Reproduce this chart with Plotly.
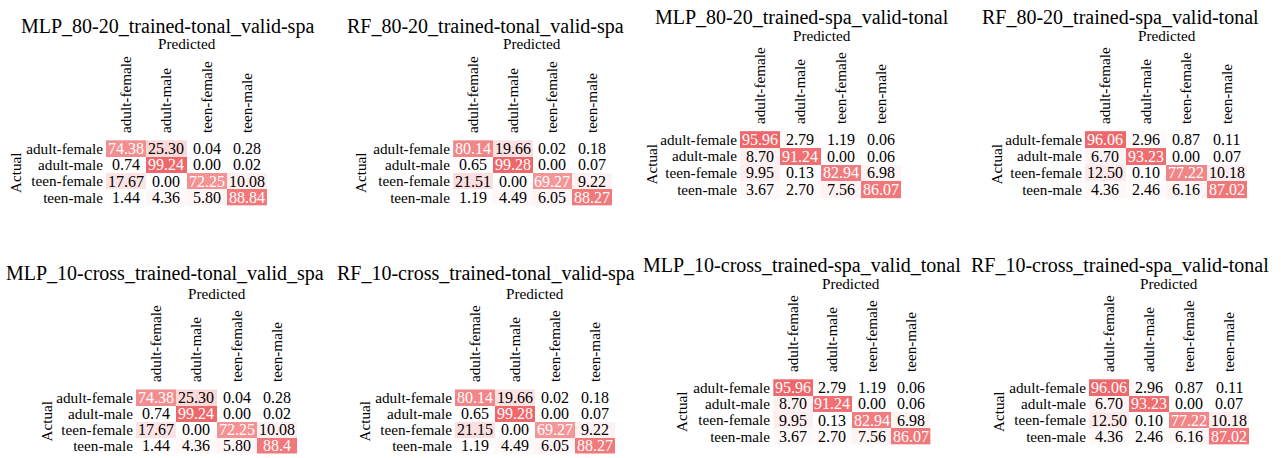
import plotly.graph_objects as go

# Class labels shared by every confusion matrix
classes = ["adult-female", "adult-male", "teen-female", "teen-male"]

# Row-normalised confusion matrices (percent), rows = actual, cols = predicted
mlp_8020_tonal_spa = [["74.38", "25.30", "0.04", "0.28"],
                      ["0.74", "99.24", "0.00", "0.02"],
                      ["17.67", "0.00", "72.25", "10.08"],
                      ["1.44", "4.36", "5.80", "88.84"]]
rf_8020_tonal_spa = [["80.14", "19.66", "0.02", "0.18"],
                     ["0.65", "99.28", "0.00", "0.07"],
                     ["21.51", "0.00", "69.27", "9.22"],
                     ["1.19", "4.49", "6.05", "88.27"]]
mlp_8020_spa_tonal = [["95.96", "2.79", "1.19", "0.06"],
                      ["8.70", "91.24", "0.00", "0.06"],
                      ["9.95", "0.13", "82.94", "6.98"],
                      ["3.67", "2.70", "7.56", "86.07"]]
rf_8020_spa_tonal = [["96.06", "2.96", "0.87", "0.11"],
                     ["6.70", "93.23", "0.00", "0.07"],
                     ["12.50", "0.10", "77.22", "10.18"],
                     ["4.36", "2.46", "6.16", "87.02"]]
mlp_cv_tonal_spa = [["74.38", "25.30", "0.04", "0.28"],
                    ["0.74", "99.24", "0.00", "0.02"],
                    ["17.67", "0.00", "72.25", "10.08"],
                    ["1.44", "4.36", "5.80", "88.4"]]
rf_cv_tonal_spa = [["80.14", "19.66", "0.02", "0.18"],
                   ["0.65", "99.28", "0.00", "0.07"],
                   ["21.15", "0.00", "69.27", "9.22"],
                   ["1.19", "4.49", "6.05", "88.27"]]
mlp_cv_spa_tonal = [["95.96", "2.79", "1.19", "0.06"],
                    ["8.70", "91.24", "0.00", "0.06"],
                    ["9.95", "0.13", "82.94", "6.98"],
                    ["3.67", "2.70", "7.56", "86.07"]]
rf_cv_spa_tonal = [["96.06", "2.96", "0.87", "0.11"],
                   ["6.70", "93.23", "0.00", "0.07"],
                   ["12.50", "0.10", "77.22", "10.18"],
                   ["4.36", "2.46", "6.16", "87.02"]]

titles = ["MLP_80-20_trained-tonal_valid-spa", "RF_80-20_trained-tonal_valid-spa",
          "MLP_80-20_trained-spa_valid-tonal", "RF_80-20_trained-spa_valid-tonal",
          "MLP_10-cross_trained-tonal_valid_spa", "RF_10-cross_trained-tonal_valid-spa",
          "MLP_10-cross_trained-spa_valid_tonal", "RF_10-cross_trained-spa_valid-tonal"]
matrices = [mlp_8020_tonal_spa, rf_8020_tonal_spa, mlp_8020_spa_tonal, rf_8020_spa_tonal,
            mlp_cv_tonal_spa, rf_cv_tonal_spa, mlp_cv_spa_tonal, rf_cv_spa_tonal]

W, H = 1281, 458
FONT = "'Liberation Serif', 'DejaVu Serif', 'Times New Roman', serif"
LABEL_SIZE = 15.2

# Pixel layout of each panel: heatmap box, title centre, "Predicted" centre, "Actual" x
panels = [
    dict(box=(106, 267, 138, 208), title=(167, 26), pred=(187, 43), actual=16),
    dict(box=(453, 612, 138, 208), title=(486, 26), pred=(532, 43), actual=361),
    dict(box=(740, 901, 129, 200), title=(802, 17), pred=(822, 36), actual=651),
    dict(box=(1085, 1247, 129, 200), title=(1120, 17), pred=(1167, 36), actual=996),
    dict(box=(136, 297, 387, 456), title=(165, 273), pred=(217, 293), actual=46),
    dict(box=(455, 615, 387, 456), title=(486, 273), pred=(535, 293), actual=364),
    dict(box=(773, 931, 377, 447), title=(802, 265), pred=(851, 283), actual=681),
    dict(box=(1089, 1249, 377, 447), title=(1120, 265), pred=(1169, 283), actual=998),
]

colorscale = [[0.0, "rgb(255,255,255)"], [1.0, "rgb(238,104,107)"]]


def fx(p):
    return p / W


def fy(p):
    return 1 - p / H


fig = go.Figure()
annotations = []
layout = {}

for i, (mat, title, pan) in enumerate(zip(matrices, titles, panels), start=1):
    z = [[float(v) for v in row] for row in mat]
    zmax = max(max(r) for r in z)
    xa = "x" if i == 1 else f"x{i}"
    ya = "y" if i == 1 else f"y{i}"
    fig.add_trace(go.Heatmap(
        z=z, x=classes, y=classes, xaxis=xa, yaxis=ya,
        zmin=0, zmax=zmax, colorscale=colorscale, showscale=False,
        hoverinfo="skip", xgap=0, ygap=0,
    ))
    x0, x1, y0, y1 = pan["box"]
    layout["xaxis" if i == 1 else f"xaxis{i}"] = dict(
        domain=[fx(x0), fx(x1)], anchor=ya, side="top", tickangle=-90,
        tickmode="array", tickvals=classes, ticktext=classes,
        showgrid=False, zeroline=False, showline=False, ticks="",
        tickfont=dict(family=FONT, size=LABEL_SIZE, color="black"),
        ticklabelstandoff=4,
    )
    layout["yaxis" if i == 1 else f"yaxis{i}"] = dict(
        domain=[fy(y1), fy(y0)], anchor=xa, autorange="reversed",
        tickmode="array", tickvals=classes, ticktext=classes,
        showgrid=False, zeroline=False, showline=False, ticks="",
        tickfont=dict(family=FONT, size=LABEL_SIZE, color="black"),
        ticklabelstandoff=2,
    )
    # cell values
    for r, row in enumerate(mat):
        for c, label in enumerate(row):
            val = float(label)
            annotations.append(dict(
                x=classes[c], y=classes[r], xref=xa, yref=ya, text=label,
                showarrow=False,
                font=dict(family=FONT, size=16,
                          color="white" if val / zmax > 0.5 else "black"),
            ))
    tx, ty = pan["title"]
    annotations.append(dict(x=fx(tx), y=fy(ty), xref="paper", yref="paper",
                            text=title, showarrow=False, xanchor="center",
                            yanchor="middle",
                            font=dict(family=FONT, size=20, color="black")))
    px_, py_ = pan["pred"]
    annotations.append(dict(x=fx(px_), y=fy(py_), xref="paper", yref="paper",
                            text="Predicted", showarrow=False, xanchor="center",
                            yanchor="middle",
                            font=dict(family=FONT, size=LABEL_SIZE, color="black")))
    annotations.append(dict(x=fx(pan["actual"]), y=fy((y0 + y1) / 2),
                            xref="paper", yref="paper", text="Actual",
                            showarrow=False, textangle=-90, xanchor="center",
                            yanchor="middle",
                            font=dict(family=FONT, size=LABEL_SIZE, color="black")))

fig.update_layout(
    width=W, height=H, margin=dict(l=0, r=0, t=0, b=0),
    paper_bgcolor="white", plot_bgcolor="white",
    annotations=annotations, **layout,
)

fig.write_html("out.html")
